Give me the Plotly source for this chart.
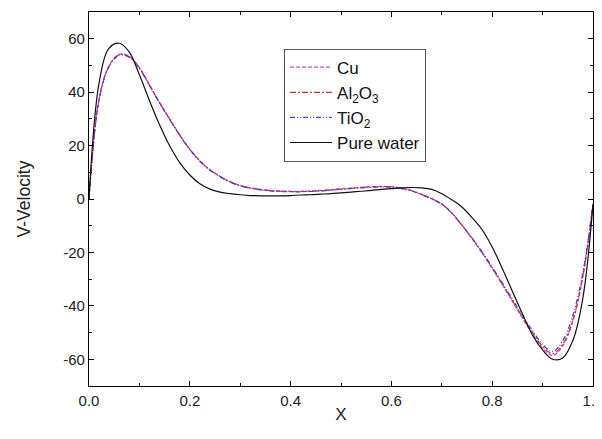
import plotly.graph_objects as go

# ---- data ----
x_vals = [0.00, 0.02, 0.04, 0.06, 0.08, 0.10, 0.12, 0.14, 0.16, 0.18,
          0.20, 0.22, 0.24, 0.26, 0.28, 0.30, 0.32, 0.34, 0.36, 0.38,
          0.40, 0.42, 0.44, 0.46, 0.48, 0.50, 0.52, 0.54, 0.56, 0.58,
          0.60, 0.62, 0.64, 0.66, 0.68, 0.70, 0.72, 0.74, 0.76, 0.78,
          0.80, 0.82, 0.84, 0.86, 0.88, 0.90, 0.92, 0.94, 0.96, 0.98, 1.00]

cu = [0.0, 37.5, 50.0, 54.2, 53.4, 49.2, 42.8, 36.2, 30.0, 24.0,
      18.7, 14.3, 11.0, 8.5, 6.5, 5.1, 4.2, 3.6, 3.2, 3.0,
      2.9, 2.9, 3.0, 3.2, 3.5, 3.8, 4.1, 4.4, 4.6, 4.7,
      4.6, 4.1, 3.2, 1.8, 0.2, -1.8, -5.2, -9.8, -14.8, -20.2,
      -26.0, -32.0, -38.3, -44.6, -50.5, -55.8, -58.6, -55.0, -45.8, -29.0, -2.0]

al2o3 = [0.0, 37.3, 49.8, 54.0, 53.2, 49.0, 42.6, 36.0, 29.9, 23.9,
         18.6, 14.2, 10.9, 8.4, 6.4, 5.0, 4.1, 3.5, 3.1, 2.9,
         2.8, 2.8, 2.9, 3.1, 3.4, 3.7, 4.0, 4.3, 4.5, 4.6,
         4.5, 4.0, 3.1, 1.7, 0.1, -1.9, -5.3, -9.8, -14.7, -20.0,
         -25.8, -31.8, -38.0, -44.2, -50.0, -55.2, -57.9, -54.3, -45.2, -28.6, -2.0]

tio2 = [0.0, 37.2, 49.6, 53.8, 53.1, 48.9, 42.5, 35.9, 29.8, 23.8,
        18.5, 14.1, 10.8, 8.3, 6.3, 4.9, 4.0, 3.4, 3.0, 2.8,
        2.7, 2.7, 2.8, 3.0, 3.3, 3.6, 3.9, 4.2, 4.4, 4.5,
        4.4, 3.9, 3.0, 1.6, 0.0, -2.0, -5.4, -9.8, -14.6, -19.8,
        -25.5, -31.4, -37.5, -43.6, -49.3, -54.4, -57.1, -53.0, -43.6, -27.4, -2.0]

water = [0.0, 43.5, 56.5, 58.3, 55.0, 46.5, 36.8, 27.8, 19.9, 13.6,
         9.0, 5.7, 3.7, 2.6, 2.0, 1.6, 1.3, 1.2, 1.2, 1.2,
         1.3, 1.5, 1.6, 1.8, 2.0, 2.3, 2.6, 2.9, 3.2, 3.6,
         3.9, 4.2, 4.3, 4.2, 3.6, 2.0, -0.3, -3.0, -7.0, -11.5,
         -18.0, -26.0, -34.5, -43.0, -51.0, -56.5, -60.0, -59.5, -53.0, -37.0, -2.0]

x_ticks = [0.0, 0.2, 0.4, 0.6, 0.8, 1.0]
x_tick_labels = ["0.0", "0.2", "0.4", "0.6", "0.8", "1.0"]
y_ticks = [-60, -40, -20, 0, 20, 40, 60]
y_tick_labels = ["-60", "-40", "-20", "0", "20", "40", "60"]

FONT = "Liberation Sans, Arial, sans-serif"

fig = go.Figure()
fig.add_trace(go.Scatter(x=x_vals, y=cu, mode="lines", name="Cu",
                         line=dict(color="#cc44cc", width=1.2, dash="4px,2px", shape="spline")))
fig.add_trace(go.Scatter(x=x_vals, y=al2o3, mode="lines", name="Al<sub>2</sub>O<sub>3</sub>",
                         line=dict(color="#d03030", width=1.2, dash="6px,2px,2px,2px", shape="spline")))
fig.add_trace(go.Scatter(x=x_vals, y=tio2, mode="lines", name="TiO<sub>2</sub>",
                         line=dict(color="#4040d0", width=1.2, dash="5px,2px,1px,2px,1px,2px", shape="spline")))
fig.add_trace(go.Scatter(x=x_vals, y=water, mode="lines", name="Pure water",
                         line=dict(color="#111111", width=1.2, shape="spline")))

axis_common = dict(
    showline=True, linecolor="black", linewidth=1.2, mirror="allticks",
    ticks="inside", ticklen=5, tickcolor="black", tickwidth=1.2,
    showgrid=False, zeroline=False,
    tickfont=dict(family=FONT, size=15, color="#222222"),
    automargin=False, ticklabeloverflow="allow",
)

fig.update_xaxes(range=[0, 1], tickvals=x_ticks, ticktext=x_tick_labels,
                 minor=dict(ticks="inside", ticklen=3, dtick=0.1, tickcolor="black", showgrid=False),
                 ticklabelstandoff=1,
                 title=dict(text="X", font=dict(family=FONT, size=17, color="#222222"), standoff=0),
                 **axis_common)
fig.update_yaxes(range=[-70, 70], tickvals=y_ticks, ticktext=y_tick_labels,
                 minor=dict(ticks="inside", ticklen=3, dtick=10, tickcolor="black", showgrid=False),
                 title=dict(text="V-Velocity", font=dict(family=FONT, size=17.5, color="#222222"), standoff=28),
                 **axis_common)

fig.update_layout(
    width=594, height=431,
    margin=dict(l=81, r=9, t=4, b=53),
    paper_bgcolor="white", plot_bgcolor="white",
    font=dict(family=FONT, size=15, color="#222222"),
    legend=dict(x=0.387, y=0.902, xanchor="left", yanchor="top",
                bordercolor="#555555", borderwidth=1, bgcolor="white",
                font=dict(family=FONT, size=17, color="#111111"),
                itemwidth=42, tracegroupgap=0),
    showlegend=True,
)

fig.write_html("out.html")
